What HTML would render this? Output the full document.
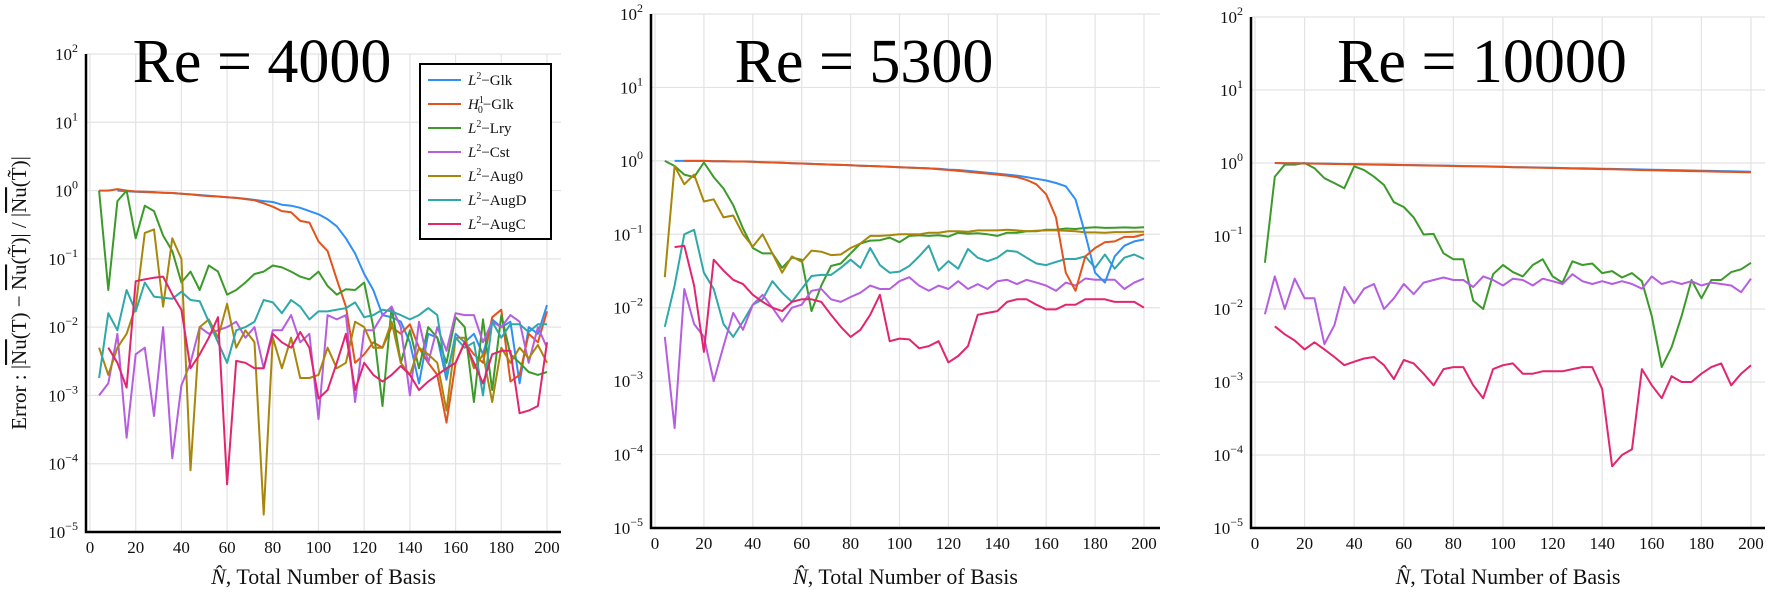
<!DOCTYPE html>
<html><head><meta charset="utf-8">
<style>
html,body{margin:0;padding:0;background:#fff;}
svg{display:block;font-family:"Liberation Serif",serif;}
</style></head>
<body>
<svg id="fig" width="1772" height="596" viewBox="0 0 1772 596" xmlns="http://www.w3.org/2000/svg"></svg>
<script>
const N = [4,8,12,16,20,24,28,32,36,40,44,48,52,56,60,64,68,72,76,80,84,88,92,96,100,104,108,112,116,120,124,128,132,136,140,144,148,152,156,160,164,168,172,176,180,184,188,192,196,200];
const xTicks = [0,20,40,60,80,100,120,140,160,180,200];
const yExps = [2,1,0,-1,-2,-3,-4,-5];
const seriesNames = ["Glk","H10Glk","Lry","Cst","Aug0","AugD","AugC"];
const colors = {Glk:"#2f8ff5",H10Glk:"#e2531d",Lry:"#3c9a2b",Cst:"#b65ee0",Aug0:"#a8860a",AugD:"#2ea8aa",AugC:"#e2256f"};

// Re = 4000
const re4000_Glk = [null,null,1.0,0.98,0.96,0.95,0.94,0.93,0.92,0.9,0.88,0.86,0.84,0.82,0.8,0.78,0.76,0.73,0.7,0.68,0.62,0.6,0.56,0.5,0.45,0.38,0.3,0.2,0.12,0.06,0.035,0.015,0.014,0.012,0.006,0.0015,0.008,0.007,0.0017,0.008,0.006,0.008,0.004,0.013,0.01,0.012,0.0015,0.01,0.008,0.021];
const re4000_H10Glk = [1.0,1.0,1.05,1.0,0.97,0.96,0.95,0.93,0.92,0.9,0.88,0.85,0.83,0.82,0.8,0.78,0.75,0.72,0.65,0.58,0.5,0.48,0.36,0.34,0.18,0.13,0.05,0.02,0.003,0.004,0.006,0.005,0.01,0.008,0.011,0.005,0.003,0.002,0.0004,0.003,0.006,0.004,0.003,0.014,0.018,0.0016,0.002,0.008,0.006,0.017];
const re4000_Lry = [1.0,0.035,0.7,1.0,0.2,0.6,0.5,0.22,0.13,0.045,0.065,0.035,0.08,0.065,0.03,0.035,0.045,0.06,0.065,0.08,0.075,0.065,0.055,0.05,0.065,0.04,0.03,0.036,0.035,0.045,0.01,0.0007,0.02,0.003,0.009,0.0025,0.01,0.007,0.003,0.014,0.01,0.0008,0.013,0.0012,0.015,0.004,0.003,0.0022,0.002,0.0022];
const re4000_Cst = [0.001,0.0015,0.008,0.00024,0.004,0.005,0.0005,0.01,0.00012,0.0014,0.003,0.01,0.008,0.009,0.01,0.012,0.007,0.01,0.0025,0.009,0.009,0.015,0.006,0.008,0.00045,0.015,0.013,0.015,0.0008,0.009,0.009,0.015,0.02,0.01,0.001,0.012,0.003,0.01,0.0045,0.016,0.015,0.015,0.006,0.012,0.01,0.015,0.012,0.003,0.01,0.005];
const re4000_Aug0 = [0.005,0.002,0.005,0.008,0.02,0.24,0.27,0.02,0.2,0.1,0.00008,0.01,0.013,0.007,0.022,0.005,0.009,0.006,0.000018,0.007,0.0025,0.007,0.0018,0.0018,0.002,0.005,0.0025,0.003,0.012,0.01,0.005,0.005,0.012,0.003,0.002,0.005,0.004,0.003,0.0006,0.007,0.007,0.0025,0.004,0.0008,0.005,0.003,0.005,0.0035,0.0055,0.003];
const re4000_AugD = [0.0018,0.016,0.009,0.035,0.017,0.045,0.028,0.027,0.026,0.033,0.025,0.024,0.012,0.006,0.003,0.009,0.01,0.012,0.025,0.023,0.016,0.025,0.02,0.013,0.017,0.017,0.018,0.019,0.023,0.014,0.015,0.018,0.017,0.015,0.013,0.015,0.019,0.015,0.002,0.007,0.005,0.006,0.001,0.012,0.007,0.011,0.011,0.0085,0.011,0.011];
const re4000_AugC = [null,0.005,0.003,0.0013,0.047,0.05,0.053,0.055,0.03,0.018,0.0025,0.004,0.007,0.014,0.00005,0.0032,0.003,0.0025,0.0025,0.008,0.006,0.005,0.0085,0.005,0.0009,0.0012,0.003,0.008,0.0012,0.003,0.002,0.0016,0.002,0.0027,0.002,0.0012,0.0016,0.002,0.0025,0.003,0.006,0.003,0.0015,0.004,0.0045,0.0045,0.00055,0.0006,0.0007,0.006];

// Re = 5300
const re5300_Glk = [null,1.0,1.0,1.0,1.0,0.99,0.99,0.98,0.98,0.97,0.96,0.95,0.94,0.93,0.92,0.91,0.9,0.89,0.88,0.87,0.86,0.85,0.84,0.83,0.82,0.81,0.8,0.79,0.78,0.76,0.75,0.73,0.71,0.69,0.67,0.65,0.63,0.6,0.57,0.54,0.5,0.45,0.3,0.1,0.03,0.022,0.05,0.07,0.08,0.085];
const re5300_H10Glk = [null,null,1.0,1.0,1.0,0.99,0.99,0.98,0.98,0.97,0.96,0.95,0.94,0.93,0.92,0.91,0.9,0.89,0.88,0.87,0.86,0.85,0.84,0.83,0.82,0.81,0.8,0.79,0.77,0.75,0.73,0.71,0.69,0.67,0.65,0.63,0.6,0.55,0.48,0.35,0.17,0.03,0.017,0.05,0.065,0.078,0.08,0.092,0.092,0.1];
const re5300_Lry = [1.0,0.85,0.65,0.6,0.95,0.6,0.42,0.25,0.12,0.065,0.055,0.055,0.035,0.048,0.045,0.009,0.02,0.037,0.04,0.055,0.075,0.082,0.083,0.09,0.078,0.095,0.097,0.095,0.097,0.093,0.105,0.102,0.103,0.1,0.095,0.105,0.105,0.11,0.11,0.115,0.115,0.12,0.118,0.122,0.125,0.122,0.123,0.124,0.123,0.125];
const re5300_Cst = [0.004,0.00023,0.018,0.006,0.004,0.001,0.003,0.0085,0.005,0.011,0.015,0.01,0.0065,0.01,0.011,0.017,0.018,0.013,0.012,0.014,0.016,0.02,0.018,0.018,0.023,0.026,0.02,0.017,0.02,0.018,0.023,0.018,0.021,0.018,0.023,0.024,0.021,0.024,0.022,0.02,0.017,0.022,0.02,0.025,0.024,0.024,0.024,0.018,0.022,0.025];
const re5300_Aug0 = [0.026,0.85,0.48,0.65,0.28,0.3,0.17,0.18,0.1,0.068,0.1,0.055,0.03,0.05,0.042,0.06,0.058,0.052,0.053,0.065,0.075,0.095,0.095,0.097,0.1,0.1,0.1,0.105,0.105,0.11,0.11,0.108,0.113,0.113,0.113,0.115,0.113,0.11,0.112,0.113,0.113,0.112,0.11,0.106,0.106,0.105,0.107,0.107,0.108,0.108];
const re5300_AugD = [0.0055,0.02,0.1,0.115,0.03,0.018,0.006,0.004,0.0065,0.011,0.013,0.023,0.016,0.012,0.018,0.027,0.028,0.028,0.035,0.045,0.035,0.065,0.038,0.03,0.031,0.037,0.05,0.07,0.032,0.043,0.034,0.063,0.048,0.043,0.048,0.06,0.058,0.048,0.04,0.038,0.042,0.046,0.046,0.05,0.035,0.053,0.034,0.048,0.053,0.046];
const re5300_AugC = [null,0.067,0.07,0.02,0.0025,0.045,0.032,0.024,0.021,0.015,0.012,0.01,0.009,0.012,0.013,0.013,0.012,0.008,0.0055,0.004,0.005,0.008,0.015,0.0035,0.0038,0.0037,0.0028,0.003,0.0035,0.0018,0.0022,0.003,0.008,0.0085,0.009,0.012,0.013,0.013,0.011,0.0095,0.0095,0.011,0.011,0.013,0.013,0.013,0.012,0.012,0.012,0.01];

// Re = 10000
const re10000_Glk = [null,1.0,0.995,0.99,0.99,0.985,0.98,0.975,0.97,0.965,0.96,0.955,0.95,0.945,0.94,0.935,0.93,0.925,0.92,0.915,0.91,0.905,0.9,0.895,0.89,0.88,0.875,0.87,0.865,0.86,0.855,0.85,0.845,0.84,0.835,0.83,0.825,0.82,0.815,0.81,0.805,0.8,0.795,0.79,0.785,0.78,0.775,0.77,0.765,0.76];
const re10000_H10Glk = [null,1.0,0.995,0.99,0.985,0.98,0.975,0.97,0.965,0.96,0.955,0.95,0.945,0.94,0.935,0.93,0.925,0.92,0.915,0.91,0.905,0.9,0.895,0.89,0.885,0.875,0.87,0.865,0.86,0.855,0.85,0.84,0.835,0.83,0.825,0.82,0.815,0.81,0.8,0.795,0.79,0.785,0.78,0.775,0.77,0.765,0.76,0.755,0.75,0.745];
const re10000_Lry = [0.043,0.65,0.95,0.95,1.0,0.85,0.62,0.53,0.45,0.9,0.8,0.65,0.5,0.29,0.25,0.18,0.105,0.107,0.058,0.048,0.048,0.013,0.01,0.03,0.04,0.032,0.028,0.04,0.048,0.028,0.023,0.045,0.04,0.042,0.031,0.033,0.027,0.031,0.024,0.008,0.0016,0.003,0.008,0.025,0.014,0.025,0.025,0.032,0.035,0.043];
const re10000_Cst = [0.0085,0.028,0.01,0.026,0.014,0.014,0.0033,0.006,0.02,0.012,0.019,0.022,0.01,0.014,0.022,0.016,0.023,0.025,0.027,0.025,0.025,0.02,0.028,0.025,0.021,0.026,0.025,0.021,0.026,0.024,0.022,0.03,0.024,0.022,0.024,0.022,0.024,0.022,0.019,0.028,0.022,0.024,0.022,0.024,0.021,0.023,0.022,0.021,0.017,0.026];
const re10000_AugC = [null,0.0058,0.0045,0.0037,0.0028,0.0035,0.0028,0.0022,0.0017,0.0019,0.0021,0.0022,0.0017,0.0011,0.002,0.0018,0.0013,0.0009,0.0015,0.0016,0.0016,0.0009,0.0006,0.0015,0.0017,0.0018,0.0013,0.0013,0.0014,0.0014,0.0014,0.0015,0.0016,0.0016,0.0008,0.00007,0.0001,0.00012,0.0015,0.0009,0.0006,0.0012,0.001,0.001,0.0013,0.0016,0.0018,0.0009,0.0013,0.0017];

const panels = [
  {name:"re-4000", title:"Re = 4000", titleX:262, left:86, right:561, x0:90, x200:547, yTop:54, yBot:532, ylabel:true, legend:true,
   series:{Glk:re4000_Glk,H10Glk:re4000_H10Glk,Lry:re4000_Lry,Cst:re4000_Cst,Aug0:re4000_Aug0,AugD:re4000_AugD,AugC:re4000_AugC}},
  {name:"re-5300", title:"Re = 5300", titleX:864, left:651, right:1160, x0:655, x200:1144, yTop:14, yBot:528,
   series:{Lry:re5300_Lry,Aug0:re5300_Aug0,AugD:re5300_AugD,Cst:re5300_Cst,AugC:re5300_AugC,Glk:re5300_Glk,H10Glk:re5300_H10Glk}},
  {name:"re-10000", title:"Re = 10000", titleX:1482, left:1251, right:1765, x0:1255, x200:1751, yTop:17, yBot:528,
   series:{Lry:re10000_Lry,Cst:re10000_Cst,AugC:re10000_AugC,Glk:re10000_Glk,H10Glk:re10000_H10Glk}}
];

const svg = document.getElementById('fig');
const NS = "http://www.w3.org/2000/svg";
function mk(tag, attrs, parent){
  const e = document.createElementNS(NS, tag);
  for (const k in attrs) e.setAttribute(k, attrs[k]);
  (parent||svg).appendChild(e);
  return e;
}

panels.forEach(p => {
  const g = mk('g', {});
  
  
  const xs = v => p.x0 + (v/200)*(p.x200 - p.x0);
  const ys = v => p.yTop + (2 - Math.log10(v)) * (p.yBot - p.yTop) / 7;

  xTicks.forEach(t => {
    const l = mk('line', {x1:xs(t), x2:xs(t), y1:p.yTop, y2:p.yBot, stroke:'#e3e3e3', 'stroke-width':1.2}, g);
    
    
  });
  yExps.forEach(e => {
    const l = mk('line', {x1:p.left, x2:p.right, y1:ys(Math.pow(10,e)), y2:ys(Math.pow(10,e)), stroke:'#e3e3e3', 'stroke-width':1.2}, g);
    
    
  });

  Object.keys(p.series).forEach(k => {
    const vals = p.series[k];
    let d = '';
    let pen = false;
    vals.forEach((v, i) => {
      if (v === null || v === undefined || i >= N.length) { pen = false; return; }
      d += (pen ? 'L' : 'M') + xs(N[i]).toFixed(1) + ' ' + ys(v).toFixed(1) + ' ';
      pen = true;
    });
    const path = mk('path', {d:d, fill:'none', stroke:colors[k], 'stroke-width':2, 'stroke-linejoin':'round'}, g);
    
    
  });

  const ax = mk('path', {d:`M${p.left} ${p.yTop} L${p.left} ${p.yBot} L${p.right} ${p.yBot}`, fill:'none', stroke:'#000', 'stroke-width':2.5}, g);
  
  

  xTicks.forEach(t => {
    const tx = mk('text', {x:xs(t), y:p.yBot + 21, 'font-size':17, 'text-anchor':'middle', fill:'#111'}, g);
    tx.textContent = t;
    
    
  });
  yExps.forEach(e => {
    const tx = mk('text', {x:p.left - 8, y:ys(Math.pow(10,e)) + 6, 'font-size':17, 'text-anchor':'end', fill:'#111'}, g);
    const t1 = mk('tspan', {}, tx); t1.textContent = '10';
    const t2 = mk('tspan', {dy:-8, 'font-size':12}, tx); t2.textContent = e < 0 ? '\u2212' + (-e) : String(e);
    
    
  });

  const xt = mk('text', {x:(p.left + p.right)/2, y:584, 'font-size':22, 'text-anchor':'middle', fill:'#111'}, g);
  const xa = mk('tspan', {'font-style':'italic'}, xt); xa.textContent = 'N\u0302';
  const xb = mk('tspan', {}, xt); xb.textContent = ',  Total Number of Basis';
  
  

  const tt = mk('text', {x:p.titleX, y:82, 'font-size':62, 'text-anchor':'middle', fill:'#000'}, g);
  tt.textContent = p.title;
  
  

  if (p.ylabel) {
    const yl = mk('text', {x:0, y:0, 'font-size':21, 'text-anchor':'middle', fill:'#111', transform:'translate(26 293) rotate(-90)'}, g);
    const parts = [['Error : |',''],['Nu','o'],['(T) \u2212 ',''],['Nu','o'],['(T\u0303)| / |',''],['Nu','o'],['(T\u0303)|','']];
    parts.forEach(pt => {
      const s = mk('tspan', {}, yl);
      if (pt[1]) s.setAttribute('text-decoration', 'overline');
      s.textContent = pt[0];
    });
    
    
  }

  if (p.legend) {
    const lg = mk('g', {}, g);
    
    
    mk('rect', {x:420, y:64, width:131, height:175, fill:'#fff', stroke:'#000', 'stroke-width':2}, lg);
    const labels = [['L','2','Glk'],['H','1','Glk'],['L','2','Lry'],['L','2','Cst'],['L','2','Aug0'],['L','2','AugD'],['L','2','AugC']];
    seriesNames.forEach((k, i) => {
      const y = 80 + i*24;
      const e = mk('g', {}, lg);
      
      
      mk('line', {x1:428, x2:461, y1:y, y2:y, stroke:colors[k], 'stroke-width':2}, e);
      const t = mk('text', {x:468, y:y+5, 'font-size':15, fill:'#111'}, e);
      const a = mk('tspan', {'font-style':'italic'}, t); a.textContent = labels[i][0];
      const b = mk('tspan', {dy:-6, 'font-size':10}, t); b.textContent = labels[i][1];
      if (k === 'H10Glk') {
        const c = mk('tspan', {dx:-6, dy:10, 'font-size':10}, t); c.textContent = '0';
        const d2 = mk('tspan', {dy:-4}, t); d2.textContent = '\u2212' + labels[i][2];
      } else {
        const d2 = mk('tspan', {dy:6}, t); d2.textContent = '\u2212' + labels[i][2];
      }
    });
  }
});
</script>
</body></html>
